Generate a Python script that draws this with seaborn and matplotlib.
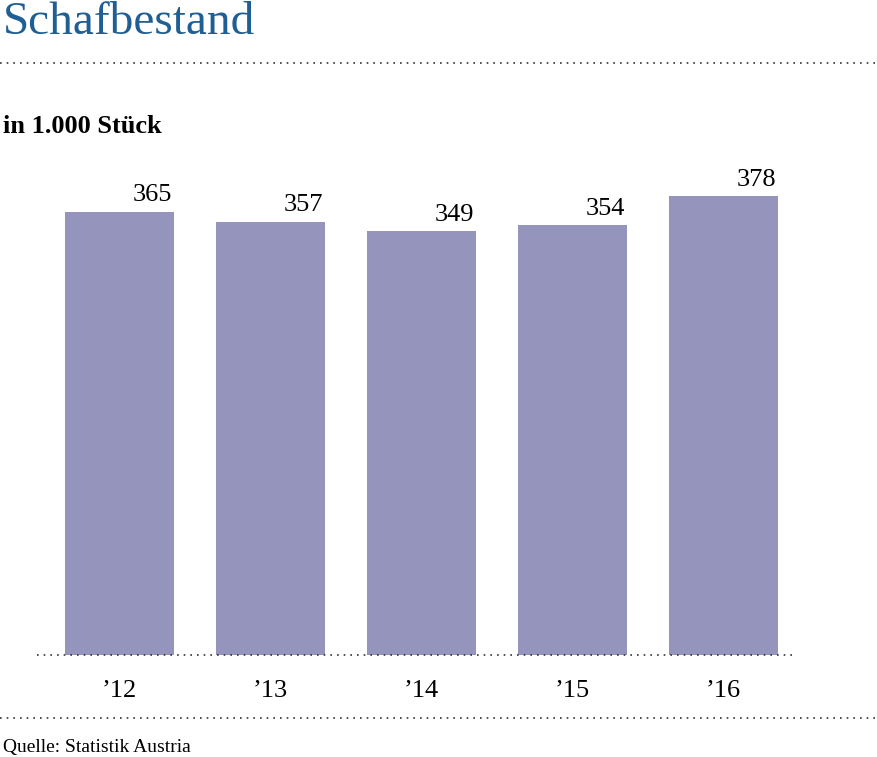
import matplotlib
matplotlib.use("Agg")
import matplotlib.pyplot as plt
import seaborn as sns
import pandas as pd

# Schafbestand in 1.000 Stück
years = ["’12", "’13", "’14", "’15", "’16"]
values = [365, 357, 349, 354, 378]

sns.set_style("white")
plt.rcParams["font.family"] = ["Liberation Serif", "DejaVu Serif"]
plt.rcParams["text.color"] = "black"
plt.rcParams["xtick.color"] = "black"

df = pd.DataFrame({"Jahr": years, "Bestand": values})

fig = plt.figure(figsize=(8.77, 7.57), dpi=100)
W, H = 877, 757

# axes placed in pixel coordinates: x 37..795, baseline y=655, top y=155
ax = fig.add_axes([37 / W, (H - 655) / H, (795 - 37) / W, 500 / H])
sns.barplot(data=df, x="Jahr", y="Bestand", color="#9594bd", width=0.72,
            saturation=1, linewidth=0, ax=ax)
ax.set_xlim(-0.546, 4.473)
ax.set_ylim(0, 412)

for i, v in enumerate(values):
    ax.annotate(str(v), (i + 0.22, v), xytext=(0, 4), textcoords="offset points",
                ha="center", va="bottom", fontsize=19, color="black")

ax.axhline(0, color="#333333", linestyle=(0, (1, 3)), linewidth=1.2, clip_on=False)

ax.set_xlabel("")
ax.set_ylabel("")
ax.set_yticks([])
ax.tick_params(axis="x", length=0, labelsize=19, pad=18)
sns.despine(ax=ax, left=True, bottom=True)

# header and footer
fig.text(3 / W, 1 - 34 / H, "Schafbestand", fontsize=34, color="#1f5f93",
         ha="left", va="baseline")
fig.text(3 / W, 1 - 133 / H, "in 1.000 Stück", fontsize=19, fontweight="bold",
         ha="left", va="baseline")
fig.text(3 / W, 1 - 752 / H, "Quelle: Statistik Austria", fontsize=14,
         ha="left", va="baseline")

for yy in (63, 718):
    fig.add_artist(plt.Line2D([0, 1], [1 - yy / H] * 2, color="#333333",
                              linestyle=(0, (1, 3)), linewidth=1.2,
                              transform=fig.transFigure))

fig.savefig("out.png", dpi=100)
